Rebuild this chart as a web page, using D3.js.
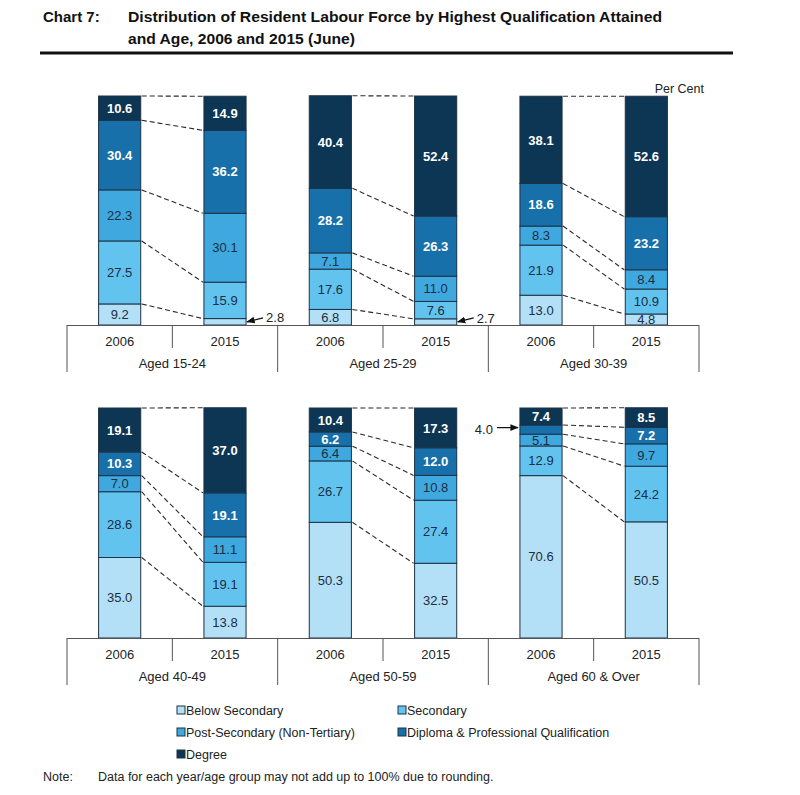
<!DOCTYPE html>
<html>
<head>
<meta charset="utf-8">
<script src="https://cdn.jsdelivr.net/npm/d3@7"></script>
<style>
  body { margin: 0; background: #fff; }
  text { font-family: "Liberation Sans", Arial, sans-serif; }
</style>
</head>
<body>
<script>
// Qualification categories, bottom of the stack first
var categories = ["Below Secondary", "Secondary", "Post-Secondary (Non-Tertiary)",
                  "Diploma & Professional Qualification", "Degree"];
var years = ["2006", "2015"];
var ageGroups = ["Aged 15-24", "Aged 25-29", "Aged 30-39",
                 "Aged 40-49", "Aged 50-59", "Aged 60 & Over"];

// Per cent, one row per age group, in category order
var values2006 = [
  [9.2, 27.5, 22.3, 30.4, 10.6],
  [6.8, 17.6, 7.1, 28.2, 40.4],
  [13.0, 21.9, 8.3, 18.6, 38.1],
  [35.0, 28.6, 7.0, 10.3, 19.1],
  [50.3, 26.7, 6.4, 6.2, 10.4],
  [70.6, 12.9, 5.1, 4.0, 7.4]
];
var values2015 = [
  [2.8, 15.9, 30.1, 36.2, 14.9],
  [2.7, 7.6, 11.0, 26.3, 52.4],
  [4.8, 10.9, 8.4, 23.2, 52.6],
  [13.8, 19.1, 11.1, 19.1, 37.0],
  [32.5, 27.4, 10.8, 12.0, 17.3],
  [50.5, 24.2, 9.7, 7.2, 8.5]
];

var colors = ["#b3e0f6", "#62c3ef", "#3ea8df", "#1770a9", "#0c3653"];
var labelColors = ["#1c2e42", "#1c2e42", "#1c2e42", "#ffffff", "#ffffff"];
var outline = "#1d3246";

var svg = d3.select("body").append("svg")
    .attr("width", 800)
    .attr("height", 795);

svg.append("defs").append("marker")
    .attr("id", "arrow")
    .attr("viewBox", "0 0 10 10")
    .attr("refX", 9).attr("refY", 5)
    .attr("markerWidth", 7).attr("markerHeight", 7)
    .attr("orient", "auto")
  .append("path")
    .attr("d", "M0,1 L10,5 L0,9 Z")
    .attr("fill", "#111");

// Title block
var title = svg.append("g").attr("font-weight", "bold").attr("font-size", 15).attr("fill", "#111");
title.append("text").attr("x", 43).attr("y", 22).text("Chart 7:");
title.append("text").attr("x", 128).attr("y", 22)
    .attr("textLength", 534).attr("lengthAdjust", "spacingAndGlyphs")
    .text("Distribution of Resident Labour Force by Highest Qualification Attained");
title.append("text").attr("x", 128).attr("y", 44)
    .attr("textLength", 227).attr("lengthAdjust", "spacingAndGlyphs")
    .text("and Age, 2006 and 2015 (June)");
svg.append("line")
    .attr("x1", 40).attr("x2", 733).attr("y1", 53).attr("y2", 53)
    .attr("stroke", "#111").attr("stroke-width", 3);

svg.append("text")
    .attr("x", 704).attr("y", 93)
    .attr("text-anchor", "end").attr("font-size", 12.5).attr("fill", "#222")
    .text("Per Cent");

var rows = [
  { ages: ageGroups.slice(0, 3), top: 96, base: 325, offset: 0 },
  { ages: ageGroups.slice(3, 6), top: 408, base: 638, offset: 3 }
];

rows.forEach(function (row) {
    var x0 = d3.scaleBand().domain(row.ages).range([67, 699]);
    var x1 = d3.scaleBand().domain(years).range([0, x0.bandwidth()])
        .paddingInner(0.6).paddingOuter(0.3);
    var y = d3.scaleLinear().domain([0, 100]).range([row.base, row.top]);
    var bw = x1.bandwidth();

    var g = svg.append("g");

    row.ages.forEach(function (age, ai) {
        var idx = row.offset + ai;
        var series = { "2006": values2006[idx], "2015": values2015[idx] };
        var cums = {};

        years.forEach(function (yr) {
            var vals = series[yr];
            var stack = [], acc = 0;
            vals.forEach(function (v, k) {
                stack.push({ k: k, v: v, y0: acc, y1: acc + v });
                acc += v;
            });
            cums[yr] = stack;

            var bx = x0(age) + x1(yr);
            var bar = g.append("g");

            bar.selectAll("rect").data(stack).enter().append("rect")
                .attr("x", bx)
                .attr("y", function (d) { return y(d.y1); })
                .attr("width", bw)
                .attr("height", function (d) { return y(d.y0) - y(d.y1); })
                .attr("fill", function (d) { return colors[d.k]; })
                .attr("stroke", outline)
                .attr("stroke-width", 1);

            stack.forEach(function (d) {
                var mid = y((d.y0 + d.y1) / 2);
                if (d.v >= 4.5) {
                    bar.append("text")
                        .attr("x", bx + bw / 2).attr("y", mid)
                        .attr("dy", "0.36em")
                        .attr("text-anchor", "middle")
                        .attr("font-size", 13)
                        .attr("font-weight", d.k >= 3 ? "bold" : "normal")
                        .attr("fill", labelColors[d.k])
                        .text(d.v.toFixed(1));
                } else if (yr === "2015") {
                    // small slice: label to the right with arrow
                    bar.append("line")
                        .attr("x1", bx + bw + 17).attr("y1", mid - 4)
                        .attr("x2", bx + bw + 1).attr("y2", mid)
                        .attr("stroke", "#111").attr("stroke-width", 1.2)
                        .attr("marker-end", "url(#arrow)");
                    bar.append("text")
                        .attr("x", bx + bw + 20).attr("y", mid - 4)
                        .attr("dy", "0.36em").attr("font-size", 13).attr("fill", "#222")
                        .text(d.v.toFixed(1));
                } else {
                    // small slice: label to the left with arrow
                    bar.append("line")
                        .attr("x1", bx - 23).attr("y1", mid - 2)
                        .attr("x2", bx - 2).attr("y2", mid - 2)
                        .attr("stroke", "#111").attr("stroke-width", 1.2)
                        .attr("marker-end", "url(#arrow)");
                    bar.append("text")
                        .attr("x", bx - 27).attr("y", mid)
                        .attr("dy", "0.36em").attr("text-anchor", "end")
                        .attr("font-size", 13).attr("fill", "#222")
                        .text(d.v.toFixed(1));
                }
            });
        });

        // dashed connectors between matching boundaries
        var xa = x0(age) + x1("2006") + bw, xb = x0(age) + x1("2015");
        categories.forEach(function (c, k) {
            g.append("line")
                .attr("x1", xa + 1).attr("y1", y(cums["2006"][k].y1))
                .attr("x2", xb - 1).attr("y2", y(cums["2015"][k].y1))
                .attr("stroke", "#2a2a2a").attr("stroke-width", 1.1)
                .attr("stroke-dasharray", "5,3");
        });

        // year labels and group label
        years.forEach(function (yr) {
            g.append("text")
                .attr("x", x0(age) + x1(yr) + bw / 2).attr("y", row.base + 21)
                .attr("text-anchor", "middle").attr("font-size", 13).attr("fill", "#222")
                .text(yr);
        });
        g.append("text")
            .attr("x", x0(age) + x0.bandwidth() / 2).attr("y", row.base + 43)
            .attr("text-anchor", "middle").attr("font-size", 13).attr("fill", "#222")
            .text(age);

        // divider between years
        g.append("line")
            .attr("x1", x0(age) + x0.bandwidth() / 2).attr("x2", x0(age) + x0.bandwidth() / 2)
            .attr("y1", row.base).attr("y2", row.base + 23)
            .attr("stroke", "#555").attr("stroke-width", 1);
    });

    // category axis line and group dividers
    g.append("line")
        .attr("x1", x0.range()[0]).attr("x2", x0.range()[1])
        .attr("y1", row.base + 0.5).attr("y2", row.base + 0.5)
        .attr("stroke", "#555").attr("stroke-width", 1);
    var edges = row.ages.map(function (a) { return x0(a); }).concat([x0.range()[1]]);
    g.selectAll(".edge").data(edges).enter().append("line")
        .attr("x1", function (d) { return d; }).attr("x2", function (d) { return d; })
        .attr("y1", row.base).attr("y2", row.base + 47)
        .attr("stroke", "#555").attr("stroke-width", 1);
});

// Legend
var legendPos = [[177, 710], [398, 710], [177, 732], [398, 732], [177, 754]];
var legend = svg.append("g");
categories.forEach(function (c, k) {
    var p = legendPos[k];
    legend.append("rect")
        .attr("x", p[0]).attr("y", p[1] - 4)
        .attr("width", 8).attr("height", 8)
        .attr("fill", colors[k]).attr("stroke", outline).attr("stroke-width", 1);
    legend.append("text")
        .attr("x", p[0] + 9).attr("y", p[1])
        .attr("dy", "0.36em").attr("font-size", 12.5).attr("fill", "#222")
        .text(c);
});

// Note
svg.append("text").attr("x", 43).attr("y", 781).attr("font-size", 12.5).attr("fill", "#222").text("Note:");
svg.append("text").attr("x", 98).attr("y", 781).attr("font-size", 12.5).attr("fill", "#222")
    .text("Data for each year/age group may not add up to 100% due to rounding.");
</script>
</body>
</html>
